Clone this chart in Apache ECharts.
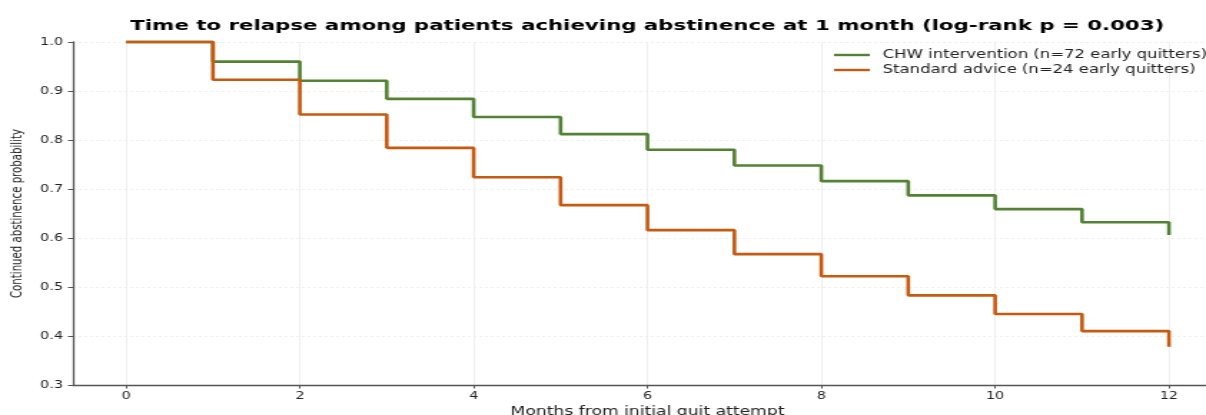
<!DOCTYPE html>
<html>
<head>
<meta charset="utf-8">
<script src="https://cdn.jsdelivr.net/npm/echarts@6/dist/echarts.min.js"></script>
<style>
html,body{margin:0;padding:0;background:#fff;overflow:hidden;}
#wrap{width:1206px;height:415px;overflow:hidden;position:relative;}
#chart{width:843px;height:415px;transform-origin:0 0;transform:scaleX(1.4306);position:absolute;left:0;top:0;}
</style>
</head>
<body>
<div id="wrap"><div id="chart"></div></div>
<script>
// ---- data ----
var months = [0, 1, 2, 3, 4, 5, 6, 7, 8, 9, 10, 11, 12];
var chwValues = [1.0, 0.960, 0.921, 0.884, 0.847, 0.812, 0.780, 0.748, 0.716, 0.687, 0.659, 0.632, 0.606];
var stdValues = [1.0, 0.923, 0.852, 0.784, 0.724, 0.667, 0.616, 0.567, 0.522, 0.483, 0.445, 0.410, 0.378];
var seriesNames = ['CHW intervention (n=72 early quitters)', 'Standard advice (n=24 early quitters)'];
var seriesColors = ['#548235', '#c55a11'];
var xTicks = [0, 2, 4, 6, 8, 10, 12];
var yTicks = [0.3, 0.4, 0.5, 0.6, 0.7, 0.8, 0.9, 1.0];
var titleText = 'Time to relapse among patients achieving abstinence at 1 month (log-rank p = 0.003)';
var xTitle = 'Months from initial quit attempt';
var yTitle = 'Continued abstinence probability';

function pairs(xs, ys) { return xs.map(function (x, i) { return [x, ys[i]]; }); }

var FONT = 'DejaVu Sans';
var chart = echarts.init(document.getElementById('chart'), null, {renderer: 'canvas'});
chart.setOption({
  animation: false,
  backgroundColor: '#ffffff',
  title: {
    text: titleText,
    left: 447.5, top: 14, textAlign: 'center',
    textStyle: {fontFamily: FONT, fontWeight: 'bold', fontSize: 14.9, color: '#000'}
  },
  legend: {
    orient: 'vertical', left: 578, top: 44,
    itemWidth: 25, itemHeight: 2.4, itemGap: 3, icon: 'rect',
    textStyle: {fontFamily: FONT, fontSize: 11.5, color: '#222', lineHeight: 12, padding: [0, 0, 0, 4]},
    data: seriesNames
  },
  grid: [
    {left: 51, right: -10.5, top: 42, bottom: 30, containLabel: false, outerBoundsMode: 'none'},
    {left: 88.1, right: 25.9, top: 42, bottom: 30, containLabel: false, outerBoundsMode: 'none'}
  ],
  xAxis: [
    {gridIndex: 0, type: 'value', min: 0, max: 1,
     axisLine: {show: true, lineStyle: {color: '#555', width: 1.3}},
     axisTick: {show: false}, axisLabel: {show: false}, splitLine: {show: false}},
    {gridIndex: 1, type: 'value', min: xTicks[0], max: xTicks[xTicks.length - 1], interval: 2,
     axisLine: {show: false},
     axisTick: {show: true, length: 3.5, lineStyle: {color: '#555', width: 1}},
     axisLabel: {fontFamily: FONT, fontSize: 10, color: '#222', margin: 6},
     splitLine: {show: true, lineStyle: {color: '#ececec', width: 0.8}},
     name: xTitle, nameLocation: 'middle', nameGap: 15.5,
     nameTextStyle: {fontFamily: FONT, fontSize: 12, color: '#222'}}
  ],
  yAxis: [
    {gridIndex: 0, type: 'value', min: yTicks[0], max: yTicks[yTicks.length - 1], interval: 0.1,
     axisLine: {show: true, lineStyle: {color: '#555', width: 1.3}},
     axisTick: {show: true, length: 3.5, lineStyle: {color: '#555', width: 1}},
     axisLabel: {fontFamily: FONT, fontSize: 10, color: '#222', margin: 7,
                 formatter: function (v) { return v.toFixed(1); }},
     splitLine: {show: true, lineStyle: {color: '#ececec', width: 0.8, type: [2, 2]}},
     name: yTitle, nameLocation: 'middle', nameRotate: 90, nameGap: 30,
     nameTextStyle: {fontFamily: FONT, fontSize: 10.2, color: '#222'}},
    {gridIndex: 1, type: 'value', min: yTicks[0], max: yTicks[yTicks.length - 1],
     show: false, splitLine: {show: false}}
  ],
  series: [
    {name: seriesNames[0], type: 'line', step: 'end', xAxisIndex: 1, yAxisIndex: 1,
     data: pairs(months, chwValues), symbol: 'none', clip: false,
     lineStyle: {color: seriesColors[0], width: 2.6}, itemStyle: {color: seriesColors[0]}},
    {name: seriesNames[1], type: 'line', step: 'end', xAxisIndex: 1, yAxisIndex: 1,
     data: pairs(months, stdValues), symbol: 'none', clip: false,
     lineStyle: {color: seriesColors[1], width: 2.6}, itemStyle: {color: seriesColors[1]}}
  ]
});
</script>
</body>
</html>
